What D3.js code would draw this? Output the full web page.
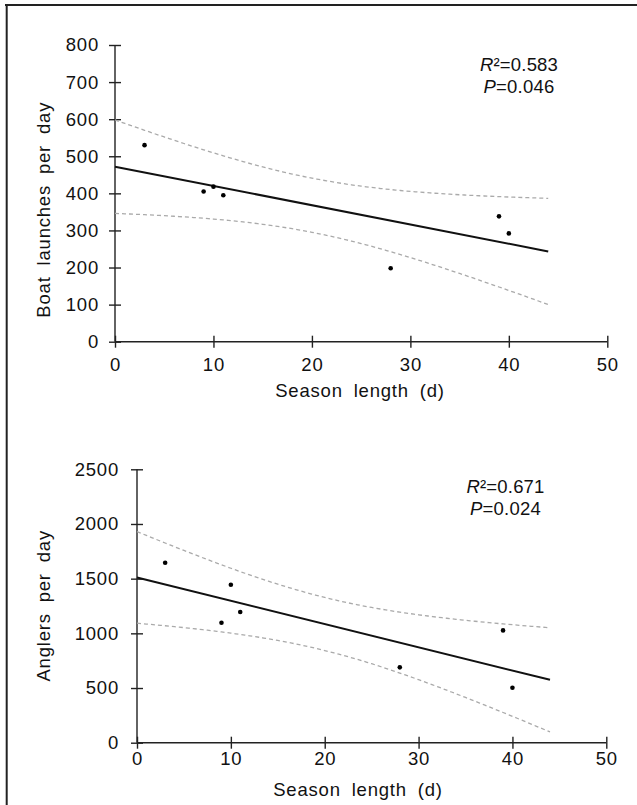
<!DOCTYPE html>
<html>
<head>
<meta charset="utf-8">
<script src="https://cdn.jsdelivr.net/npm/d3@7"></script>
<style>
  html, body { margin: 0; padding: 0; background: #fff; }
  svg { display: block; }
  text { font-family: "Liberation Sans", Arial, sans-serif; fill: #111; }
</style>
</head>
<body>
<div id="main"></div>
<script>
// data
const seasonLength = [3, 9, 10, 11, 28, 39, 40];
const boatLaunches = [530, 405, 418, 395, 198, 338, 292];
const anglers = [1645, 1097, 1444, 1195, 689, 1027, 503];

const xTicks = [0, 10, 20, 30, 40, 50];
const boatTicks = [0, 100, 200, 300, 400, 500, 600, 700, 800];
const anglerTicks = [0, 500, 1000, 1500, 2000, 2500];

const boatStats = [["R", "²=0.583"], ["P", "=0.046"]];
const anglerStats = [["R", "²=0.671"], ["P", "=0.024"]];

const fitMax = 44;      // fitted line drawn from 0 to 44 d
const tCrit = 2.571;    // t(0.975, df = 5)

const W = 637, H = 805;
const svg = d3.select("#main").append("svg").attr("width", W).attr("height", H);

// frame (top and left edge only)
svg.append("line").attr("x1", 5).attr("x2", W).attr("y1", 5).attr("y2", 5)
  .attr("stroke", "#222").attr("stroke-width", 2);
svg.append("line").attr("x1", 6.7).attr("x2", 6.7).attr("y1", 4).attr("y2", H)
  .attr("stroke", "#222").attr("stroke-width", 2);

const fit = (xs, ys) => {
  const n = xs.length;
  const mx = d3.mean(xs), my = d3.mean(ys);
  const sxx = d3.sum(xs, x => (x - mx) ** 2);
  const sxy = d3.sum(xs, (x, i) => (x - mx) * (ys[i] - my));
  const b = sxy / sxx, a = my - b * mx;
  const sse = d3.sum(xs, (x, i) => (ys[i] - a - b * x) ** 2);
  const s = Math.sqrt(sse / (n - 2));
  const half = x => tCrit * s * Math.sqrt(1 / n + (x - mx) ** 2 / sxx);
  return { a, b, half };
};

const drawPanel = (cfg) => {
  const x = d3.scaleLinear().domain([0, 50]).range(cfg.xr);
  const y = d3.scaleLinear().domain([0, cfg.ymax]).range(cfg.yr);
  const g = svg.append("g");

  // axes
  const xa = g.append("g").attr("transform", `translate(0,${cfg.yr[0]})`)
    .call(d3.axisBottom(x).tickValues(xTicks).tickFormat(d3.format("d"))
      .tickSize(6).tickPadding(cfg.xPad));
  const ya = g.append("g").attr("transform", `translate(${cfg.xr[0]},0)`)
    .call(d3.axisLeft(y).tickValues(cfg.yTicks).tickFormat(d3.format("d"))
      .tickSize(6).tickPadding(cfg.yPad));

  [xa, ya].forEach(ax => {
    ax.select(".domain").attr("stroke", "#222").attr("stroke-width", 1.4);
    ax.selectAll(".tick line").attr("stroke", "#222").attr("stroke-width", 1.4);
    ax.selectAll(".tick text").attr("font-size", 18.5).attr("letter-spacing", 0.8)
      .attr("font-family", "Liberation Sans, Arial, sans-serif").attr("fill", "#111");
  });
  // ticks cross the axis
  xa.selectAll(".tick line").attr("y1", -6).attr("y2", 6);
  ya.selectAll(".tick line").attr("x1", -6).attr("x2", 6);
  xa.select(".domain").attr("d", `M${cfg.xr[0]},0H${cfg.xr[1]}`);
  ya.select(".domain").attr("d", `M0,${cfg.yr[0]}V${cfg.yr[1]}`);

  // regression + 95% CI
  const f = fit(seasonLength, cfg.ys);
  const grid = d3.range(0, fitMax + 0.001, 0.5);
  const line = d3.line().x(d => x(d[0])).y(d => y(d[1]));

  [1, -1].forEach(sgn => {
    g.append("path")
      .attr("d", line(grid.map(v => [v, f.a + f.b * v + sgn * f.half(v)])))
      .attr("fill", "none").attr("stroke", "#aaa").attr("stroke-width", 1.3)
      .attr("stroke-dasharray", "4,3");
  });

  g.append("path")
    .attr("d", line([[0, f.a], [fitMax, f.a + f.b * fitMax]]))
    .attr("fill", "none").attr("stroke", "#111").attr("stroke-width", 2);

  g.selectAll("circle.pt")
    .data(seasonLength.map((s, i) => [s, cfg.ys[i]]))
    .enter().append("circle")
    .attr("class", "pt")
    .attr("cx", d => x(d[0])).attr("cy", d => y(d[1]))
    .attr("r", 2.3).attr("fill", "#000");

  // axis titles
  g.append("text")
    .attr("x", cfg.xTitle[0]).attr("y", cfg.xTitle[1])
    .attr("text-anchor", "middle").attr("font-size", 18.5)
    .attr("letter-spacing", 0.8).attr("word-spacing", 5)
    .text("Season length (d)");

  g.append("text")
    .attr("transform", `translate(${cfg.yTitle[0]},${cfg.yTitle[1]}) rotate(-90)`)
    .attr("text-anchor", "middle").attr("font-size", 18.5)
    .attr("letter-spacing", 0.8).attr("word-spacing", 5)
    .text(cfg.yLabel);

  // stats
  cfg.stats.forEach((st, i) => {
    const t = g.append("text")
      .attr("x", cfg.statPos[0]).attr("y", cfg.statPos[1] + i * 22.3)
      .attr("text-anchor", "middle").attr("font-size", 18.5).attr("letter-spacing", 0.2);
    t.append("tspan").attr("font-style", "italic").text(st[0]);
    t.append("tspan").text(st[1]);
  });
};

drawPanel({
  ys: boatLaunches,
  ymax: 800,
  yTicks: boatTicks,
  xr: [115, 607.3],
  yr: [341.7, 45],
  xPad: 10,
  yPad: 10,
  xTitle: [360, 397],
  yTitle: [50, 209.7],
  yLabel: "Boat launches per day",
  stats: boatStats,
  statPos: [519, 70.5]
});

drawPanel({
  ys: anglers,
  ymax: 2500,
  yTicks: anglerTicks,
  xr: [137, 606.3],
  yr: [742.7, 469.3],
  xPad: 3,
  yPad: 12,
  xTitle: [358, 796],
  yTitle: [50, 605.8],
  yLabel: "Anglers per day",
  stats: anglerStats,
  statPos: [505.5, 492.7]
});
</script>
</body>
</html>
